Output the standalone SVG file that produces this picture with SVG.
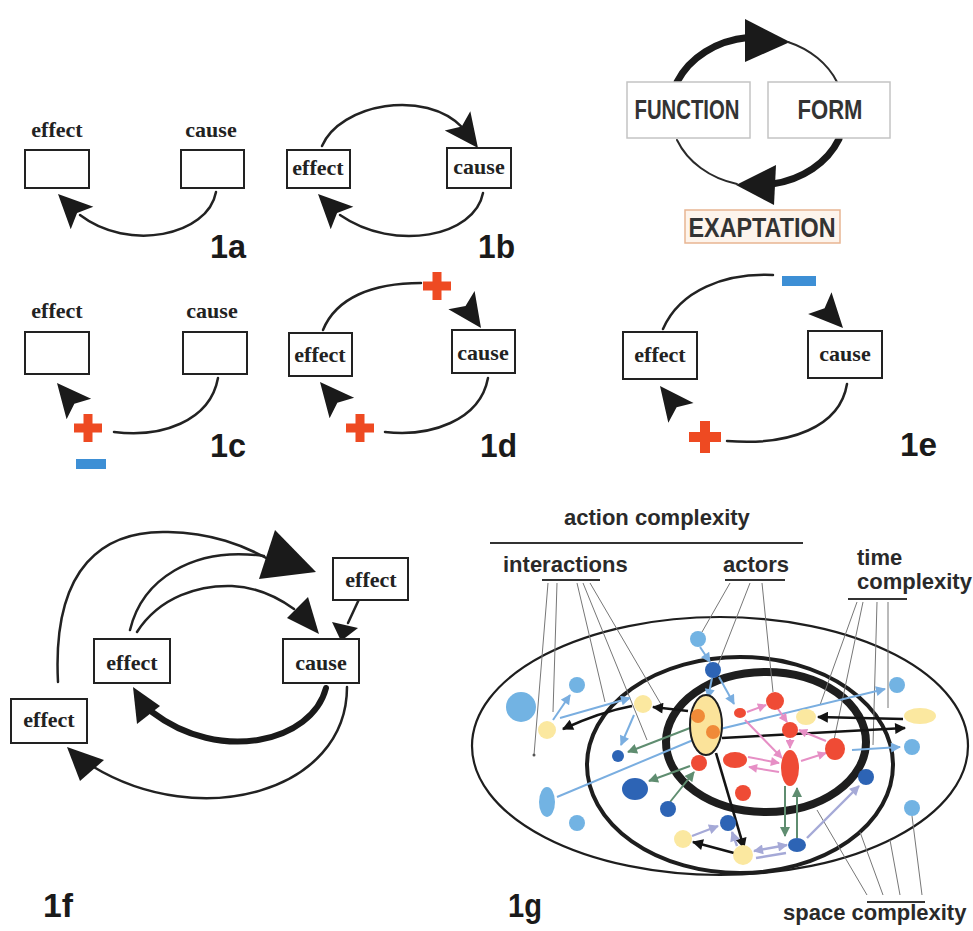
<svg xmlns="http://www.w3.org/2000/svg" width="973" height="931" viewBox="0 0 973 931">
  <style>
    .box{fill:#fff;stroke:#222;stroke-width:2}
    .lbl{font-family:"Liberation Serif","Times New Roman",serif;font-weight:bold;font-size:22px;fill:#222;text-anchor:middle}
    .num{font-family:"Liberation Sans",Arial,sans-serif;font-weight:bold;font-size:34px;fill:#1a1a1a}
    .arc{fill:none;stroke:#222;stroke-width:2.5;stroke-linecap:round}
    .thick{fill:none;stroke:#1a1a1a;stroke-width:7;stroke-linecap:round}
    .thin{fill:none;stroke:#2a2a2a;stroke-width:2;stroke-linecap:round}
    .head{fill:#1a1a1a}
    .plus{fill:#ee4a22}
    .minus{fill:#3d8fd5}
    .gbox{fill:#fff;stroke:#c4c4c4;stroke-width:1.5}
    .cap{font-family:"Liberation Sans",Arial,sans-serif;font-weight:bold;font-size:27px;fill:#333;text-anchor:middle}
    .gt{font-family:"Liberation Sans",Arial,sans-serif;font-weight:bold;font-size:22px;fill:#2a2a2a}
    .rule{stroke:#333;stroke-width:2}
    .lead{stroke:#777;stroke-width:1;fill:none}
    .ring{fill:none;stroke:#1e1e1e}
    .lb{fill:#72b3e3}
    .db{fill:#2d64b5}
    .py{fill:#fbe8a0}
    .rd{fill:#ef4b35}
    .or{fill:#f08a38}
    .a-lb{stroke:#7aaee0;stroke-width:2;fill:none}
    .a-bk{stroke:#141414;stroke-width:2.6;fill:none}
    .a-gr{stroke:#5f8d70;stroke-width:2;fill:none}
    .a-pk{stroke:#e68fc5;stroke-width:2;fill:none}
    .a-lv{stroke:#a5a9d7;stroke-width:2.4;fill:none}
  </style>
  <defs>
    <!-- notched dart arrowhead, tip at origin pointing along +x -->
    <path id="dart" d="M0,0 L-34,-16 L-27,0 L-34,16 Z"/>
    <!-- plus and minus signs centred at origin -->
    <path id="plus" d="M-4.5,-14 H4.5 V-4.5 H14 V4.5 H4.5 V14 H-4.5 V4.5 H-14 V-4.5 H-4.5 Z"/>
    <path id="plusL" d="M-5,-16 H5 V-5 H16 V5 H5 V16 H-5 V5 H-16 V-5 H-5 Z"/>
    <marker id="m-lb" viewBox="0 0 10 10" refX="9" refY="5" markerWidth="11" markerHeight="10" markerUnits="userSpaceOnUse" orient="auto-start-reverse"><path d="M0,0 L10,5 L0,10 Z" fill="#7aaee0"/></marker>
    <marker id="m-bk" viewBox="0 0 10 10" refX="9" refY="5" markerWidth="13" markerHeight="11" markerUnits="userSpaceOnUse" orient="auto-start-reverse"><path d="M0,0 L10,5 L0,10 Z" fill="#141414"/></marker>
    <marker id="m-gr" viewBox="0 0 10 10" refX="9" refY="5" markerWidth="11" markerHeight="10" markerUnits="userSpaceOnUse" orient="auto-start-reverse"><path d="M0,0 L10,5 L0,10 Z" fill="#5f8d70"/></marker>
    <marker id="m-pk" viewBox="0 0 10 10" refX="9" refY="5" markerWidth="10" markerHeight="9" markerUnits="userSpaceOnUse" orient="auto-start-reverse"><path d="M0,0 L10,5 L0,10 Z" fill="#e68fc5"/></marker>
    <marker id="m-lv" viewBox="0 0 10 10" refX="9" refY="5" markerWidth="11" markerHeight="10" markerUnits="userSpaceOnUse" orient="auto-start-reverse"><path d="M0,0 L10,5 L0,10 Z" fill="#a5a9d7"/></marker>
  </defs>

  <rect width="973" height="931" fill="#fff"/>

  <!-- ===== 1a ===== -->
  <g id="p1a">
    <g id="p1a-effect"><text class="lbl" x="57" y="137">effect</text><rect class="box" x="25" y="150" width="64" height="38"/></g>
    <g id="p1a-cause"><text class="lbl" x="211" y="137">cause</text><rect class="box" x="181" y="150" width="63" height="38"/></g>
    <g id="p1a-links">
      <path class="arc" d="M216,192 C208,236 128,252 80,215"/>
      <use href="#dart" class="head" transform="translate(58,194) rotate(-135)"/>
    </g>
    <text class="num" x="210" y="258" textLength="36" lengthAdjust="spacingAndGlyphs">1a</text>
  </g>

  <!-- ===== 1b ===== -->
  <g id="p1b">
    <g id="p1b-effect"><rect class="box" x="287" y="150" width="63" height="38"/><text class="lbl" x="318" y="175">effect</text></g>
    <g id="p1b-cause"><rect class="box" x="447" y="148" width="64" height="40"/><text class="lbl" x="479" y="174">cause</text></g>
    <g id="p1b-links">
      <path class="arc" d="M322,146 C340,104 425,88 463,128"/>
      <use href="#dart" class="head" transform="translate(478,148) rotate(53)"/>
      <path class="arc" d="M483,193 C475,236 395,253 340,215"/>
      <use href="#dart" class="head" transform="translate(318,194) rotate(-135)"/>
    </g>
    <text class="num" x="478" y="258" textLength="37" lengthAdjust="spacingAndGlyphs">1b</text>
  </g>

  <!-- ===== FUNCTION / FORM / EXAPTATION ===== -->
  <g id="pexapt">
    <g id="exapt-links">
      <path class="thick" d="M677,82 A88,74 0 0 1 748,37.5"/>
      <path class="head" d="M745,19 L790,42 L745,62 Z"/>
      <path class="thin" d="M788,42 A88,74 0 0 1 837,82"/>
      <path class="thick" d="M839,139 A88,74 0 0 1 772,184"/>
      <path class="head" d="M776,165 L736,185 L774,205 Z"/>
      <path class="thin" d="M737,184 A88,74 0 0 1 677,140"/>
    </g>
    <g id="n-function"><rect class="gbox" x="627" y="82" width="123" height="56"/><text class="cap" x="687" y="119" textLength="105" lengthAdjust="spacingAndGlyphs">FUNCTION</text></g>
    <g id="n-form"><rect class="gbox" x="768" y="82" width="122" height="56"/><text class="cap" x="830" y="119" textLength="65" lengthAdjust="spacingAndGlyphs">FORM</text></g>
    <g id="n-exaptation"><rect x="685" y="210" width="155" height="33" fill="#fdf4ec" stroke="#e8b592" stroke-width="1.5"/><text class="cap" x="762" y="237" textLength="147" lengthAdjust="spacingAndGlyphs">EXAPTATION</text></g>
  </g>

  <!-- ===== 1c ===== -->
  <g id="p1c">
    <g id="p1c-effect"><text class="lbl" x="57" y="318">effect</text><rect class="box" x="25" y="332" width="64" height="42"/></g>
    <g id="p1c-cause"><text class="lbl" x="212" y="318">cause</text><rect class="box" x="183" y="332" width="64" height="42"/></g>
    <g id="p1c-links">
      <path class="arc" d="M218,378 C210,422 160,438 114,432"/>
      <use href="#dart" class="head" transform="translate(57,383) rotate(-130)"/>
      <use href="#plus" class="plus" transform="translate(88,428)"/>
      <rect class="minus" x="76" y="459" width="30" height="10"/>
    </g>
    <text class="num" x="210" y="457" textLength="36" lengthAdjust="spacingAndGlyphs">1c</text>
  </g>

  <!-- ===== 1d ===== -->
  <g id="p1d">
    <g id="p1d-effect"><rect class="box" x="289" y="333" width="63" height="43"/><text class="lbl" x="320" y="362">effect</text></g>
    <g id="p1d-cause"><rect class="box" x="452" y="330" width="63" height="43"/><text class="lbl" x="483" y="360">cause</text></g>
    <g id="p1d-links">
      <path class="arc" d="M323,330 C336,298 372,283 421,283"/>
      <use href="#plus" class="plus" transform="translate(437,286)"/>
      <use href="#dart" class="head" transform="translate(481,328) rotate(55)"/>
      <path class="arc" d="M488,378 C480,421 430,437 385,432"/>
      <use href="#plus" class="plus" transform="translate(360,428)"/>
      <use href="#dart" class="head" transform="translate(320,382) rotate(-130)"/>
    </g>
    <text class="num" x="480" y="457" textLength="37" lengthAdjust="spacingAndGlyphs">1d</text>
  </g>

  <!-- ===== 1e ===== -->
  <g id="p1e">
    <g id="p1e-effect"><rect class="box" x="623" y="332" width="74" height="47"/><text class="lbl" x="660" y="362">effect</text></g>
    <g id="p1e-cause"><rect class="box" x="808" y="331" width="74" height="47"/><text class="lbl" x="845" y="361">cause</text></g>
    <g id="p1e-links">
      <path class="arc" d="M663,329 C680,290 725,273 773,275"/>
      <rect class="minus" x="782" y="276" width="34" height="10"/>
      <use href="#dart" class="head" transform="translate(843,328) rotate(47)"/>
      <path class="arc" d="M847,384 C840,427 790,446 727,441"/>
      <use href="#plusL" class="plus" transform="translate(705,437)"/>
      <use href="#dart" class="head" transform="translate(660,386) rotate(-128)"/>
    </g>
    <text class="num" x="900" y="456" textLength="37" lengthAdjust="spacingAndGlyphs">1e</text>
  </g>

  <!-- ===== 1f ===== -->
  <g id="p1f">
    <g id="p1f-links">
      <path class="arc" d="M58,682 C52,565 105,530 168,532 C212,533 243,545 270,560"/>
      <path class="arc" d="M130,630 C142,580 192,546 264,556"/>
      <path class="head" d="M275,530 L316,572 L259,579 Z"/>
      <path class="arc" d="M137,632 C160,596 200,585 232,586 C256,587 276,596 294,609"/>
      <path class="head" d="M287,618 L308,597 L319,634 Z"/>
      <path class="arc" d="M361,595 L348,623"/>
      <path class="head" d="M332,622 L358,628 L341,641 Z"/>
      <path fill="none" stroke="#1a1a1a" stroke-width="6" stroke-linecap="round" d="M326,688 C312,742 220,764 152,712"/>
      <path class="head" d="M133,687 L137,724 L160,706 Z"/>
      <path class="arc" d="M347,687 C347,792 200,832 92,766"/>
      <path class="head" d="M67,747 L104,760 L80,781 Z"/>
    </g>
    <g id="p1f-effect-top"><rect class="box" x="333" y="558" width="75" height="42"/><text class="lbl" x="371" y="587">effect</text></g>
    <g id="p1f-cause"><rect class="box" x="283" y="639" width="76" height="44"/><text class="lbl" x="321" y="670">cause</text></g>
    <g id="p1f-effect-mid"><rect class="box" x="94" y="639" width="76" height="44"/><text class="lbl" x="132" y="670">effect</text></g>
    <g id="p1f-effect-left"><rect class="box" x="11" y="699" width="76" height="44"/><text class="lbl" x="49" y="727">effect</text></g>
    <text class="num" x="43" y="917" textLength="30" lengthAdjust="spacingAndGlyphs">1f</text>
  </g>

  <!-- ===== 1g ===== -->
  <g id="p1g">
    <g id="g-labels">
      <text class="gt" x="564" y="525">action complexity</text>
      <line class="rule" x1="490" y1="543" x2="803" y2="543"/>
      <text class="gt" x="503" y="572">interactions</text>
      <line class="rule" x1="542" y1="580" x2="600" y2="580"/>
      <text class="gt" x="723" y="572">actors</text>
      <line class="rule" x1="725" y1="580" x2="785" y2="580"/>
      <text class="gt" x="857" y="565">time</text>
      <text class="gt" x="857" y="589">complexity</text>
      <line class="rule" x1="848" y1="599" x2="907" y2="599"/>
      <text class="gt" x="783" y="920">space complexity</text>
      <line class="rule" x1="867" y1="902" x2="925" y2="902"/>
    </g>

    <g id="g-rings">
      <ellipse class="ring" cx="720" cy="746" rx="248" ry="129" stroke-width="2.2"/>
      <ellipse class="ring" cx="740" cy="765" rx="153" ry="108" stroke-width="4"/>
      <ellipse class="ring" cx="766" cy="742" rx="100" ry="70" stroke-width="8"/>
    </g>

    <g id="g-leaders">
      <path class="lead" d="M548,583 L534,755 M557,583 L553,712 M577,583 L605,702 M583,583 L647,740 M590,583 L662,706"/>
      <path class="lead" d="M730,583 L702,632 M750,583 L718,665 M762,583 L773,692"/>
      <path class="lead" d="M857,602 L820,705 M863,602 L834,740 M877,602 L873,745 M888,602 L888,708"/>
      <path class="lead" d="M867,895 L817,810 M883,895 L860,832 M900,895 L890,840 M922,895 L912,816"/>
      <circle cx="534" cy="755" r="1.5" fill="#555"/>
    </g>

    <g id="g-links">
      <!-- light blue -->
      <path class="a-lb" marker-end="url(#m-lb)" d="M553,720 L570,695"/>
      <path class="a-lb" marker-end="url(#m-lb)" d="M560,718 L630,698"/>
      <path class="a-lb" marker-end="url(#m-lb)" d="M634,715 L621,745"/>
      <path class="a-lb" marker-end="url(#m-lb)" d="M700,647 L710,662"/>
      <path class="a-lb" marker-end="url(#m-lb)" d="M719,677 L734,704"/>
      <path class="a-lb" marker-end="url(#m-lb)" d="M712,678 L708,698"/>
      <path class="a-lb" d="M557,797 L698,738"/>
      <path class="a-lb" marker-end="url(#m-lb)" d="M716,730 L885,689"/>
      <path class="a-lb" marker-end="url(#m-lb)" d="M852,750 L900,747"/>
      <!-- black -->
      <path class="a-bk" marker-end="url(#m-bk)" d="M632,706 Q600,712 563,729"/>
      <path class="a-bk" marker-end="url(#m-bk)" d="M688,711 L653,707"/>
      <path class="a-bk" stroke-width="3" marker-end="url(#m-bk)" d="M722,738 L905,728"/>
      <path class="a-bk" marker-end="url(#m-bk)" d="M903,719 L818,717"/>
      <path class="a-bk" marker-end="url(#m-bk)" d="M716,753 L744,848"/>
      <path class="a-bk" marker-end="url(#m-bk)" d="M734,853 L693,842"/>
      <!-- green -->
      <path class="a-gr" marker-end="url(#m-gr)" d="M690,728 L628,752"/>
      <path class="a-gr" marker-end="url(#m-gr)" d="M690,766 L649,781"/>
      <path class="a-gr" marker-end="url(#m-gr)" d="M670,802 L694,772"/>
      <path class="a-gr" marker-end="url(#m-gr)" d="M785,786 L785,836"/>
      <path class="a-gr" marker-end="url(#m-gr)" d="M797,838 L797,788"/>
      <!-- pink -->
      <path class="a-pk" marker-end="url(#m-pk)" d="M747,712 L766,705"/>
      <path class="a-pk" marker-end="url(#m-pk)" d="M778,709 L787,722"/>
      <path class="a-pk" marker-end="url(#m-pk)" d="M745,720 L782,758"/>
      <path class="a-pk" marker-end="url(#m-pk)" d="M748,757 L779,763"/>
      <path class="a-pk" marker-end="url(#m-pk)" d="M779,772 L749,767"/>
      <path class="a-pk" marker-end="url(#m-pk)" d="M801,761 L826,753"/>
      <path class="a-pk" marker-end="url(#m-pk)" d="M826,741 L799,730"/>
      <path class="a-pk" marker-end="url(#m-pk)" d="M790,739 L790,748"/>
      <!-- lavender -->
      <path class="a-lv" marker-end="url(#m-lv)" d="M692,836 L718,826"/>
      <path class="a-lv" marker-end="url(#m-lv)" d="M737,846 L732,832"/>
      <path class="a-lv" marker-start="url(#m-lv)" marker-end="url(#m-lv)" d="M754,851 L787,845"/>
      <path class="a-lv" d="M756,858 L786,853"/>
      <path class="a-lv" marker-end="url(#m-lv)" d="M807,838 L859,786"/>
    </g>

    <g id="g-actors">
      <circle class="lb" cx="521" cy="707" r="15"/>
      <circle class="lb" cx="577" cy="685" r="8"/>
      <circle class="lb" cx="698" cy="639" r="8"/>
      <circle class="lb" cx="897" cy="685" r="8"/>
      <circle class="lb" cx="912" cy="747" r="8"/>
      <circle class="lb" cx="912" cy="808" r="8"/>
      <ellipse class="lb" cx="547" cy="802" rx="8" ry="15"/>
      <circle class="lb" cx="577" cy="823" r="8"/>
      <circle class="db" cx="713" cy="670" r="8"/>
      <circle class="db" cx="618" cy="756" r="6"/>
      <ellipse class="db" cx="635" cy="789" rx="13" ry="11"/>
      <circle class="db" cx="668" cy="809" r="8"/>
      <circle class="db" cx="728" cy="823" r="8"/>
      <ellipse class="db" cx="797" cy="845" rx="9" ry="7"/>
      <circle class="db" cx="866" cy="777" r="8"/>
      <circle class="py" cx="547" cy="730" r="9"/>
      <circle class="py" cx="643" cy="704" r="9"/>
      <ellipse class="py" cx="806" cy="717" rx="10" ry="8"/>
      <ellipse class="py" cx="920" cy="716" rx="16" ry="8"/>
      <circle class="py" cx="683" cy="839" r="9"/>
      <circle class="py" cx="743" cy="855" r="10"/>
      <ellipse cx="706" cy="725" rx="16" ry="30" fill="#fbe39a" stroke="#1e1e1e" stroke-width="2"/>
      <circle class="or" cx="698" cy="716" r="7"/>
      <circle class="or" cx="713" cy="732" r="7"/>
      <circle class="rd" cx="775" cy="701" r="9"/>
      <ellipse class="rd" cx="740" cy="713" rx="6" ry="5"/>
      <circle class="rd" cx="790" cy="730" r="8"/>
      <ellipse class="rd" cx="835" cy="749" rx="10" ry="11"/>
      <ellipse class="rd" cx="735" cy="760" rx="12" ry="8"/>
      <ellipse class="rd" cx="790" cy="768" rx="9" ry="18"/>
      <circle class="rd" cx="699" cy="763" r="8"/>
      <circle class="rd" cx="743" cy="793" r="8"/>
    </g>
    <text class="num" x="508" y="917" textLength="34" lengthAdjust="spacingAndGlyphs">1g</text>
  </g>
</svg>
